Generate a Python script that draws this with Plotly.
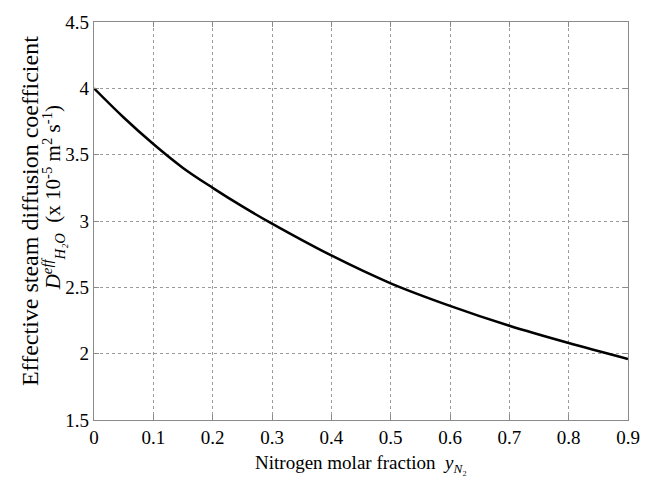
import plotly.graph_objects as go

# Nitrogen molar fraction and effective steam diffusion coefficient (x 1e-5 m2/s)
y_n2 = [0.0, 0.05, 0.1, 0.15, 0.2, 0.25, 0.3, 0.4, 0.5, 0.6, 0.7, 0.8, 0.9]
d_eff = [4.00, 3.78, 3.58, 3.40, 3.25, 3.11, 2.98, 2.74, 2.53, 2.36, 2.21, 2.08, 1.96]

x_ticks = [0, 0.1, 0.2, 0.3, 0.4, 0.5, 0.6, 0.7, 0.8, 0.9]
x_tick_text = ["0", "0.1", "0.2", "0.3", "0.4", "0.5", "0.6", "0.7", "0.8", "0.9"]
y_ticks = [1.5, 2, 2.5, 3, 3.5, 4, 4.5]
y_tick_text = ["1.5", "2", "2.5", "3", "3.5", "4", "4.5"]

y_title_1 = "Effective steam diffusion coefficient"
y_title_2 = ("<i>D</i><sup><i>eff</i></sup><sub><i>H₂O</i></sub>  "
             "(x 10<sup>-5</sup> m<sup>2</sup> s<sup>-1</sup>)")
x_title = "Nitrogen molar fraction  <i>y</i><sub><i>N</i>₂</sub>"

serif = "Liberation Serif"

fig = go.Figure()
fig.add_trace(go.Scatter(
    x=y_n2, y=d_eff, mode="lines",
    line=dict(color="black", width=2.5, shape="spline", smoothing=1.0),
    showlegend=False,
))

axis_common = dict(
    showline=True, linecolor="#8a8a8a", linewidth=1.2, mirror="ticks",
    ticks="inside", ticklen=5, tickcolor="#8a8a8a",
    showgrid=True, gridcolor="#9a9a9a", griddash="dot", gridwidth=1,
    zeroline=False,
    tickfont=dict(family=serif, size=19, color="black"),
)

fig.update_layout(
    width=652, height=481,
    margin=dict(l=94, r=14, t=16, b=61),
    plot_bgcolor="white", paper_bgcolor="white",
    font=dict(family=serif, color="black"),
    xaxis=dict(
        range=[0, 0.9], tickvals=x_ticks, ticktext=x_tick_text,
        title=dict(text=x_title, font=dict(family=serif, size=19), standoff=8),
        **axis_common,
    ),
    yaxis=dict(
        range=[1.5, 4.5], tickvals=y_ticks, ticktext=y_tick_text,
        **axis_common,
    ),
)

# Two-line vertical y-axis title
fig.add_annotation(
    text=y_title_1, textangle=-90, showarrow=False,
    xref="paper", yref="paper", x=0, y=0.525,
    xanchor="center", yanchor="middle", xshift=-64,
    font=dict(family=serif, size=24, color="black"),
)
fig.add_annotation(
    text=y_title_2, textangle=-90, showarrow=False,
    xref="paper", yref="paper", x=0, y=0.557,
    xanchor="center", yanchor="middle", xshift=-41,
    font=dict(family=serif, size=21, color="black"),
)

fig.write_html("out.html")
